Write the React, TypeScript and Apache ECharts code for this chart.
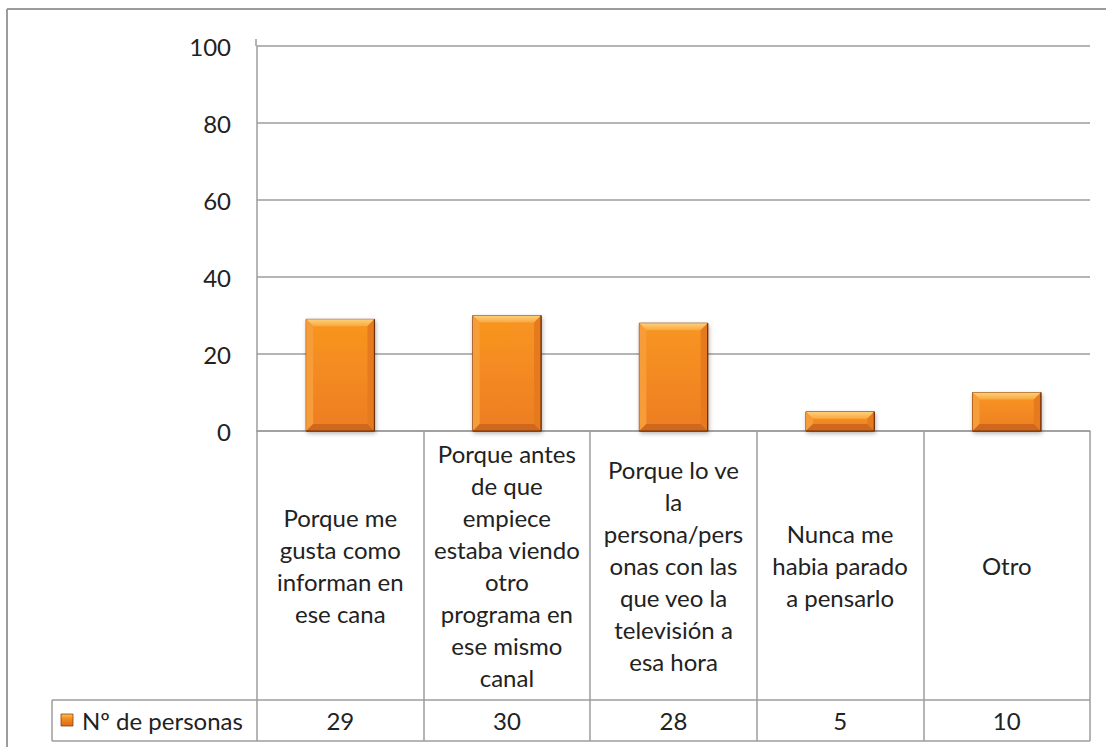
import React, { useEffect, useRef } from "react";
import * as echarts from "echarts";

const categories: string[] = [
  "Porque me\ngusta como\ninforman en\nese cana",
  "Porque antes\nde que\nempiece\nestaba viendo\notro\nprograma en\nese mismo\ncanal",
  "Porque lo ve\nla\npersona/pers\nonas con las\nque veo la\ntelevisión a\nesa hora",
  "Nunca me\nhabia parado\na pensarlo",
  "Otro",
];
const values: number[] = [29, 30, 28, 5, 10];
const seriesName = "Nº de personas";
const yTicks = { min: 0, max: 100, interval: 20 };

const FONT = "Lato";
const FS = 24;
const GREY = "#9c9c9c";
const TEXT = "#222222";

export default function App() {
  const ref = useRef<HTMLDivElement>(null);
  useEffect(() => {
    if (!ref.current) return;
    const chart = echarts.init(ref.current, null, { renderer: "svg" });
    const option: any = {
      animation: false,
      backgroundColor: "#ffffff",
      grid: { left: 257, right: 16, top: 46, bottom: 316, containLabel: false },
      xAxis: [
        {
          type: "category",
          data: categories,
          position: "bottom",
          axisLine: { show: true, lineStyle: { color: GREY, width: 1.5 } },
          axisTick: { show: true, length: 310, lineStyle: { color: GREY, width: 1.5 } },
          splitLine: { show: false },
          axisLabel: {
            interval: 0,
            margin: 134.5,
            verticalAlign: "middle",
            align: "center",
            fontFamily: FONT,
            fontSize: FS,
            lineHeight: 32,
            color: TEXT,
          },
        },
        {
          type: "category",
          data: values.map((v) => String(v)),
          position: "bottom",
          offset: 289.5,
          axisLine: { show: false },
          axisTick: { show: false },
          splitLine: { show: false },
          axisLabel: {
            interval: 0,
            margin: 0,
            verticalAlign: "middle",
            fontFamily: FONT,
            fontSize: FS,
            color: TEXT,
          },
        },
      ],
      yAxis: {
        type: "value",
        min: yTicks.min,
        max: yTicks.max,
        interval: yTicks.interval,
        axisLine: { show: true, lineStyle: { color: GREY, width: 1.5 } },
        axisTick: { show: false },
        splitLine: { show: true, lineStyle: { color: GREY, width: 1.5 } },
        axisLabel: { margin: 26, fontFamily: FONT, fontSize: FS, color: TEXT },
      },
      series: [
        {
          type: "custom",
          name: seriesName,
          xAxisIndex: 0,
          yAxisIndex: 0,
          data: values.map((v, i) => [i, v]),
          renderItem: (params: any, api: any) => {
            const idx = api.value(0);
            const v = api.value(1);
            const top = api.coord([idx, v]);
            const base = api.coord([idx, 0]);
            const w = api.size([1, 0])[0] * 0.41;
            const x0 = top[0] - w / 2;
            const x1 = top[0] + w / 2;
            const y0 = top[1];
            const y1 = base[1];
            const b = Math.min(7, (y1 - y0) / 2.5);
            return {
              type: "group",
              children: [
                {
                  type: "rect",
                  shape: { x: x0, y: y0, width: w, height: y1 - y0 },
                  style: {
                    fill: new echarts.graphic.LinearGradient(0, 0, 0, 1, [
                      { offset: 0, color: "#f8961f" },
                      { offset: 1, color: "#ee7d22" },
                    ]),
                    stroke: "#7a3810",
                    lineWidth: 1,
                    shadowBlur: 4,
                    shadowOffsetX: 1,
                    shadowOffsetY: 2,
                    shadowColor: "rgba(0,0,0,0.3)",
                  },
                },
                {
                  type: "polygon",
                  shape: { points: [[x0, y0], [x1, y0], [x1 - b, y0 + b], [x0 + b, y0 + b]] },
                  style: {
                    fill: new echarts.graphic.LinearGradient(0, 0, 0, 1, [
                      { offset: 0, color: "#fdd07a" },
                      { offset: 1, color: "#f9a840" },
                    ]),
                  },
                },
                {
                  type: "polygon",
                  shape: { points: [[x0, y0], [x0 + b, y0 + b], [x0 + b, y1 - b], [x0, y1]] },
                  style: { fill: "#f69c38" },
                },
                {
                  type: "polygon",
                  shape: { points: [[x1, y0], [x1, y1], [x1 - b, y1 - b], [x1 - b, y0 + b]] },
                  style: { fill: "#e57b1e" },
                },
                {
                  type: "polygon",
                  shape: { points: [[x0, y1], [x0 + b, y1 - b], [x1 - b, y1 - b], [x1, y1]] },
                  style: { fill: "#cf681c" },
                },
                {
                  type: "polyline",
                  shape: { points: [[x1, y0], [x1, y1], [x0, y1]] },
                  style: { stroke: "#6e300c", lineWidth: 1.2, fill: "none" },
                },
              ],
            };
          },
        },
      ],
      graphic: [
        { type: "line", shape: { x1: 7, y1: 9, x2: 1106, y2: 9 }, style: { stroke: GREY, lineWidth: 2 } },
        { type: "line", shape: { x1: 7, y1: 9, x2: 7, y2: 747 }, style: { stroke: GREY, lineWidth: 2 } },
        { type: "line", shape: { x1: 256, y1: 39, x2: 256, y2: 46 }, style: { stroke: GREY, lineWidth: 1.5 } },
        { type: "line", shape: { x1: 52, y1: 700, x2: 1090, y2: 700 }, style: { stroke: GREY, lineWidth: 1.5 } },
        { type: "line", shape: { x1: 52, y1: 741, x2: 1090, y2: 741 }, style: { stroke: GREY, lineWidth: 1.5 } },
        { type: "line", shape: { x1: 52, y1: 700, x2: 52, y2: 741 }, style: { stroke: GREY, lineWidth: 1.5 } },
        {
          type: "rect",
          shape: { x: 61, y: 714, width: 12, height: 12 },
          style: {
            fill: new echarts.graphic.LinearGradient(0, 0, 0, 1, [
              { offset: 0, color: "#fcc060" },
              { offset: 0.35, color: "#f5901f" },
              { offset: 1, color: "#d9691c" },
            ]),
            stroke: "#8a4010",
            lineWidth: 0.8,
          },
        },
        {
          type: "text",
          x: 82,
          y: 720.5,
          style: {
            text: seriesName,
            fontFamily: FONT,
            fontSize: FS,
            fill: TEXT,
            verticalAlign: "middle",
            align: "left",
          },
        },
      ],
    };
    chart.setOption(option);
    return () => chart.dispose();
  }, []);
  return (
    <div
      ref={ref}
      style={{ position: "fixed", left: 0, top: 0, width: 1106, height: 747 }}
    />
  );
}
